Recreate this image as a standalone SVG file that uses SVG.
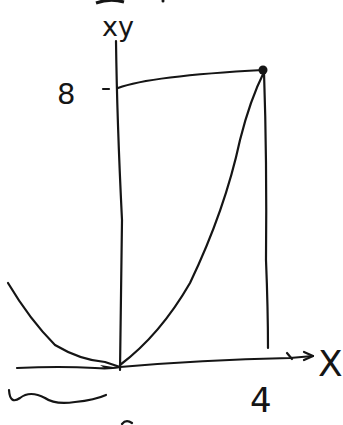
<svg xmlns="http://www.w3.org/2000/svg" width="343" height="425" viewBox="0 0 343 425">
<style>
.ink{fill:none;stroke:#151515;stroke-width:2.2;stroke-linecap:round;stroke-linejoin:round}
.lbl{font-family:"DejaVu Sans","Liberation Sans",sans-serif;fill:#151515}
</style>
<rect width="343" height="425" fill="#ffffff"/>
<g id="marks">
<path d="M96,3 Q110,-2 124,2" stroke="#151515" stroke-width="3" fill="none"/>
<circle cx="163" cy="1" r="1.5" fill="#151515"/>
</g>
<g id="axes">
<path class="ink" d="M116,41 Q117,120 122,220 Q121,300 120,370"/>
<path class="ink" d="M17,368 Q60,366 95,368 Q110,369 120,367 Q200,360 290,358 L313,356"/>
<path class="ink" d="M304,352 L313,356 L304,360"/>
<path class="ink" d="M287,353 L292,359"/>
<path class="ink" d="M103,89 L109,89"/>
</g>
<g id="curves">
<path class="ink" d="M118,88 Q150,76 263,70"/>
<path class="ink" d="M264,72 Q267,160 266,260 Q268,310 268,348"/>
<path class="ink" d="M120,365 Q160,335 190,283 Q225,210 240,140 Q250,100 264,72"/>
<path class="ink" d="M8,283 Q30,320 55,345 Q80,360 105,362 L120,367"/>
<path d="M100,365 L120,368 L106,369 Z" fill="#151515"/>
<circle cx="263" cy="70" r="4.5" fill="#151515"/>
<path class="ink" d="M9,390 Q10,405 20,398 Q30,390 45,398 Q55,405 75,402 Q95,400 106,395"/>
<path class="ink" d="M122,424 Q126,419 132,423"/>
</g>
<g id="labels">
<text class="lbl" x="102" y="36" font-size="27">xy</text>
<text class="lbl" x="57" y="104" font-size="29">8</text>
<text class="lbl" x="318" y="376" font-size="36">X</text>
<text class="lbl" x="250" y="412" font-size="34">4</text>
</g>
</svg>
